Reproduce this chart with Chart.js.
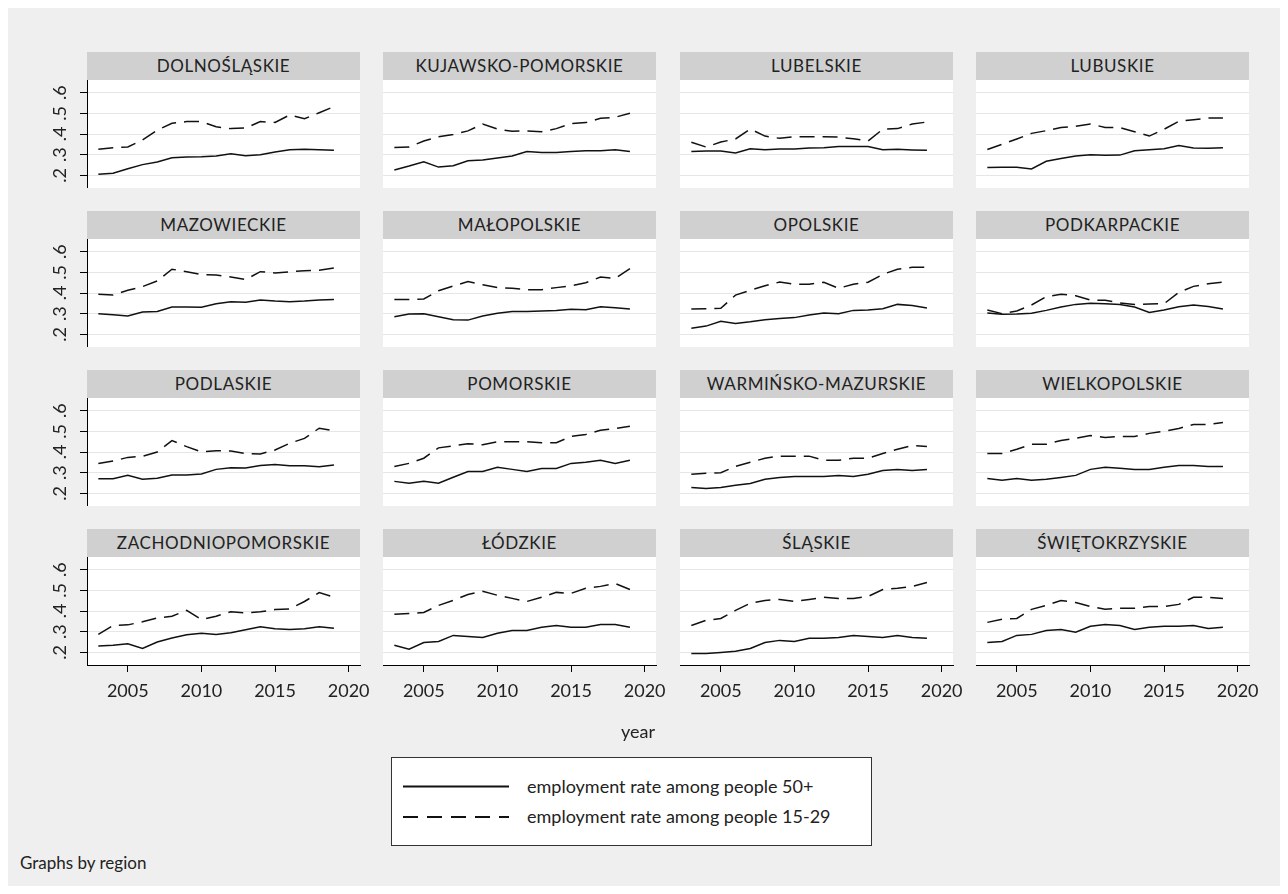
<!DOCTYPE html>
<html><head><meta charset="utf-8">
<script src="https://cdn.jsdelivr.net/npm/chart.js@4.4.0/dist/chart.umd.min.js"></script>
<style>
body{margin:0;background:#fff;width:1288px;height:894px;overflow:hidden;font-family:Lato,"Open Sans",sans-serif;position:relative}
#bg{position:absolute;left:8px;top:8px;width:1272px;height:878px;background:#efefef}
.hdr{position:absolute;height:28px;line-height:28px;background:#d0d0d0;text-align:center;font-size:17px;color:#222;letter-spacing:0.6px}
.pc{position:absolute}
.txt{position:absolute;color:#222;white-space:nowrap}
#legend{position:absolute;left:391px;top:757px;width:479px;height:87px;border:1px solid #333;background:#fff}
</style></head>
<body>
<div id="bg"></div>
<div id="root"></div>
<div class="txt" style="left:621px;top:720px;font-size:18px;">year</div>
<div id="legend">
<svg width="479" height="87" style="position:absolute;left:0;top:0">
<line x1="11" y1="28.5" x2="117" y2="28.5" stroke="#111" stroke-width="2"/>
<line x1="11" y1="59" x2="117" y2="59" stroke="#111" stroke-width="2" stroke-dasharray="15,9"/>
</svg>
<div class="txt" style="left:135px;top:17px;font-size:18px;">employment rate among people 50+</div>
<div class="txt" style="left:135px;top:47px;font-size:18px;">employment rate among people 15-29</div>
</div>
<div class="txt" style="left:20px;top:852px;font-size:17px;">Graphs by region</div>
<script>
const YEARS = [2003,2004,2005,2006,2007,2008,2009,2010,2011,2012,2013,2014,2015,2016,2017,2018,2019];
const X_TICKS = [2005,2010,2015,2020];
const Y_TICKS = [0.2,0.3,0.4,0.5,0.6];
const REGIONS = ["DOLNOŚLĄSKIE","KUJAWSKO-POMORSKIE","LUBELSKIE","LUBUSKIE","MAZOWIECKIE","MAŁOPOLSKIE","OPOLSKIE","PODKARPACKIE","PODLASKIE","POMORSKIE","WARMIŃSKO-MAZURSKIE","WIELKOPOLSKIE","ZACHODNIOPOMORSKIE","ŁÓDZKIE","ŚLĄSKIE","ŚWIĘTOKRZYSKIE"];
const SERIES_LABELS = ["employment rate among people 50+","employment rate among people 15-29"];

const DOLNOSLASKIE_50 = [.205,.210,.232,.252,.265,.285,.289,.290,.294,.305,.295,.300,.313,.324,.326,.324,.321];
const DOLNOSLASKIE_15 = [.326,.334,.337,.371,.419,.452,.460,.460,.435,.426,.429,.460,.456,.492,.474,.503,.532];
const KUJAWSKO_50 = [.226,.245,.266,.240,.247,.271,.274,.284,.294,.315,.310,.310,.315,.319,.319,.324,.315];
const KUJAWSKO_15 = [.335,.337,.366,.387,.398,.415,.448,.424,.413,.415,.411,.426,.450,.455,.476,.481,.500];
const LUBELSKIE_50 = [.315,.318,.318,.308,.329,.324,.327,.327,.332,.334,.339,.340,.340,.324,.326,.323,.321];
const LUBELSKIE_15 = [.360,.337,.361,.376,.424,.390,.379,.387,.387,.387,.385,.377,.366,.423,.426,.448,.458];
const LUBUSKIE_50 = [.238,.239,.239,.231,.268,.282,.294,.300,.297,.298,.319,.324,.329,.344,.332,.331,.334];
const LUBUSKIE_15 = [.325,.350,.376,.403,.416,.431,.437,.448,.432,.431,.411,.390,.423,.461,.469,.477,.477];
const MAZOWIECKIE_50 = [.300,.295,.289,.308,.311,.332,.332,.331,.348,.358,.355,.366,.361,.358,.361,.366,.368];
const MAZOWIECKIE_15 = [.394,.390,.413,.431,.458,.515,.503,.489,.487,.477,.465,.503,.497,.502,.508,.510,.521];
const MALOPOLSKIE_50 = [.285,.298,.300,.285,.271,.269,.289,.302,.311,.311,.313,.316,.321,.319,.334,.329,.323];
const MALOPOLSKIE_15 = [.369,.369,.371,.411,.434,.455,.440,.426,.423,.416,.416,.426,.435,.450,.477,.471,.518];
const OPOLSKIE_50 = [.230,.240,.263,.253,.261,.271,.277,.281,.294,.303,.300,.316,.318,.324,.345,.340,.327];
const OPOLSKIE_15 = [.323,.324,.326,.390,.413,.435,.453,.442,.442,.452,.423,.442,.452,.490,.515,.524,.524];
const PODKARPACKIE_50 = [.303,.297,.298,.302,.316,.332,.345,.350,.348,.344,.332,.306,.318,.334,.342,.335,.323];
const PODKARPACKIE_15 = [.318,.300,.313,.342,.382,.394,.387,.366,.365,.352,.345,.347,.348,.403,.432,.445,.452];
const PODLASKIE_50 = [.271,.271,.287,.268,.273,.289,.289,.294,.316,.324,.323,.335,.339,.334,.334,.329,.337];
const PODLASKIE_15 = [.344,.356,.374,.379,.400,.455,.426,.400,.406,.405,.392,.390,.410,.442,.466,.515,.502];
const POMORSKIE_50 = [.258,.249,.258,.249,.278,.306,.306,.326,.316,.306,.320,.320,.345,.350,.360,.345,.360];
const POMORSKIE_15 = [.330,.345,.370,.420,.430,.440,.435,.450,.450,.450,.445,.445,.475,.485,.505,.514,.524];
const WARMINSKO_50 = [.229,.224,.229,.239,.248,.268,.277,.282,.282,.282,.287,.282,.292,.311,.316,.311,.316];
const WARMINSKO_15 = [.292,.297,.300,.330,.350,.370,.380,.380,.380,.360,.360,.370,.370,.393,.413,.432,.427];
const WIELKOPOLSKIE_50 = [.272,.263,.272,.263,.268,.277,.287,.316,.326,.321,.316,.316,.326,.335,.335,.330,.330];
const WIELKOPOLSKIE_15 = [.393,.393,.413,.437,.437,.456,.466,.480,.470,.475,.475,.490,.500,.514,.533,.533,.543];
const ZACHODNIO_50 = [.231,.235,.242,.219,.250,.269,.285,.293,.287,.295,.309,.324,.314,.311,.314,.324,.317];
const ZACHODNIO_15 = [.287,.330,.333,.348,.366,.375,.403,.359,.375,.396,.391,.396,.407,.410,.446,.489,.467];
const LODZKIE_50 = [.234,.215,.248,.253,.282,.277,.272,.292,.306,.306,.321,.330,.321,.321,.335,.335,.321];
const LODZKIE_15 = [.384,.388,.393,.427,.451,.480,.495,.476,.461,.446,.466,.490,.485,.510,.519,.533,.504];
const SLASKIE_50 = [.195,.195,.200,.205,.219,.248,.258,.253,.268,.268,.272,.282,.277,.272,.282,.272,.268];
const SLASKIE_15 = [.330,.355,.364,.403,.437,.451,.456,.446,.456,.466,.461,.461,.470,.504,.510,.519,.538];
const SWIETOKRZYSKIE_50 = [.248,.253,.282,.287,.306,.311,.297,.326,.335,.330,.311,.321,.326,.326,.330,.316,.321];
const SWIETOKRZYSKIE_15 = [.345,.360,.364,.408,.427,.451,.441,.422,.408,.413,.413,.422,.422,.432,.466,.466,.461];

const SERIES_50 = [DOLNOSLASKIE_50,KUJAWSKO_50,LUBELSKIE_50,LUBUSKIE_50,MAZOWIECKIE_50,MALOPOLSKIE_50,OPOLSKIE_50,PODKARPACKIE_50,PODLASKIE_50,POMORSKIE_50,WARMINSKO_50,WIELKOPOLSKIE_50,ZACHODNIO_50,LODZKIE_50,SLASKIE_50,SWIETOKRZYSKIE_50];
const SERIES_15 = [DOLNOSLASKIE_15,KUJAWSKO_15,LUBELSKIE_15,LUBUSKIE_15,MAZOWIECKIE_15,MALOPOLSKIE_15,OPOLSKIE_15,PODKARPACKIE_15,PODLASKIE_15,POMORSKIE_15,WARMINSKO_15,WIELKOPOLSKIE_15,ZACHODNIO_15,LODZKIE_15,SLASKIE_15,SWIETOKRZYSKIE_15];

const XMIN = 2002.23, XMAX = 2020.77, YMIN = 0.139, YMAX = 0.661;
const COL_L = [87,383,680,976], ROW_T = [80,239,398,557], PW = 273, PH = 108;
const LEFT_EXTRA = 50, RIGHT_EXTRA = 30, BOTTOM_EXTRA = 50;
const FONT = 'Lato, "Open Sans", sans-serif';

const plotBg = {id:'plotBg', beforeDraw(ch){const a=ch.chartArea, c=ch.ctx; c.save(); c.fillStyle='#fff'; c.fillRect(a.left,a.top,a.right-a.left,a.bottom-a.top); c.restore();}};

const root = document.getElementById('root');
REGIONS.forEach((name,i)=>{
  const r = Math.floor(i/4), c = i%4;
  const le = c===0?LEFT_EXTRA:0, re = r===3?RIGHT_EXTRA:0, be = r===3?BOTTOM_EXTRA:0;
  const h = document.createElement('div');
  h.className='hdr'; h.textContent=name;
  h.style.left=COL_L[c]+'px'; h.style.top=(ROW_T[r]-28)+'px'; h.style.width=PW+'px';
  root.appendChild(h);
  const d = document.createElement('div'); d.className='pc';
  const W = PW+le+re, H = PH+be;
  d.style.left=(COL_L[c]-le)+'px'; d.style.top=ROW_T[r]+'px'; d.style.width=W+'px'; d.style.height=H+'px';
  const cv = document.createElement('canvas'); cv.width=W; cv.height=H; cv.style.width=W+'px'; cv.style.height=H+'px';
  d.appendChild(cv); root.appendChild(d);
  new Chart(cv,{
    type:'line',
    data:{datasets:[
      {label:SERIES_LABELS[0],data:YEARS.map((y,k)=>({x:y,y:SERIES_50[i][k]})),borderColor:'#111',borderWidth:1.5,pointRadius:0,fill:false,tension:0},
      {label:SERIES_LABELS[1],data:YEARS.map((y,k)=>({x:y,y:SERIES_15[i][k]})),borderColor:'#111',borderWidth:1.5,borderDash:[15,8],pointRadius:0,fill:false,tension:0}
    ]},
    options:{
      responsive:false, animation:false, devicePixelRatio:1,
      layout:{padding:{left:0,top:0,bottom:0,right:re}},
      plugins:{legend:{display:false},tooltip:{enabled:false}},
      scales:{
        x:{type:'linear',min:XMIN,max:XMAX,display:r===3,
          grid:{drawOnChartArea:false,drawTicks:true,tickLength:7,color:'#000',tickColor:'#000'},
          border:{display:true,color:'#000',width:1},
          ticks:{font:{size:18,family:FONT},color:'#222',padding:8,maxRotation:0,autoSkip:false,callback:v=>String(v)},
          afterBuildTicks:s=>{s.ticks=X_TICKS.map(v=>({value:v}));},
          afterFit:s=>{s.height=be;s.paddingLeft=0;s.paddingRight=0;}
        },
        y:{type:'linear',min:YMIN,max:YMAX,
          grid:{color:'#e6e6e6',lineWidth:1,drawTicks:c===0,tickLength:7,tickColor:'#000'},
          border:{display:c===0,color:'#000',width:1},
          ticks:{display:c===0,autoSkip:false,minRotation:90,maxRotation:90,crossAlign:'center',padding:12,font:{size:18,family:FONT},color:'#222',callback:v=>v.toFixed(1).replace(/^0/,'')},
          afterBuildTicks:s=>{s.ticks=Y_TICKS.map(v=>({value:v}));},
          afterFit:s=>{s.width=le;s.paddingTop=0;s.paddingBottom=0;}
        }
      }
    },
    plugins:[plotBg]
  });
});
</script>
</body></html>
